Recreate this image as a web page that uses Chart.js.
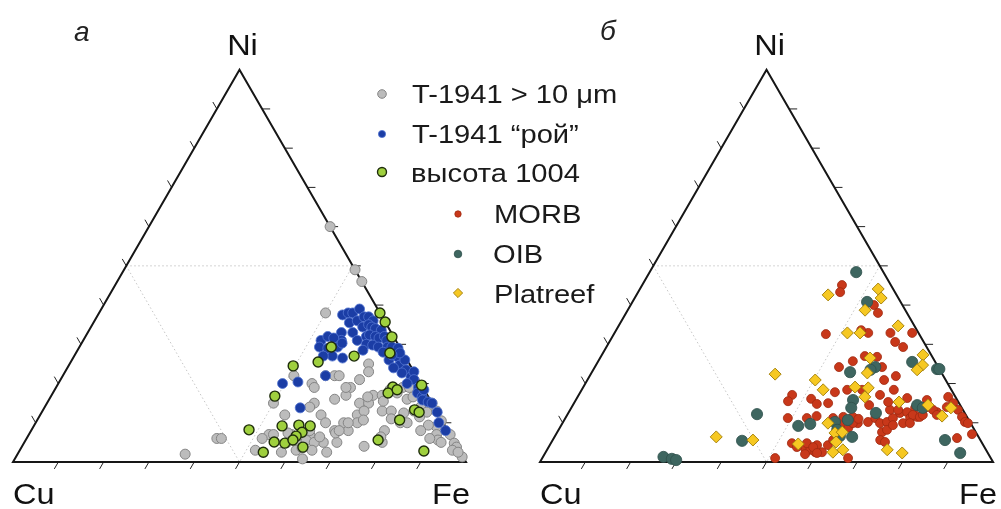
<!DOCTYPE html>
<html>
<head>
<meta charset="utf-8">
<script src="https://cdn.jsdelivr.net/npm/chart.js@4.4.1/dist/chart.umd.min.js"></script>
<style>
  html, body { margin: 0; padding: 0; background: #fff; }
  canvas { display: block; }
</style>
</head>
<body>
<canvas id="ternary" width="1001" height="509"></canvas>
<script>
// each point is [Fe %, Ni %]; Cu = 100 - Fe - Ni
const t1941Big = [
  [40,60],[51,49],[54,46],[50,38],[37,2],[42,6],[43,6],
  [51,22],[50,15],[56,20],[57,19],[58,22],[60,22],[61,22],[65,19],[66,21],[66,25],[67,23],
  [59,15],[54,12],[62,12],[64,10],[63,16],[65,17],[69,15],[70,12],[71,15],[71,13],[71,10],[71,17],
  [73,17],[75,13],[74,15.5],[77,13],[78,11],[68,10],[70,8],[69,5],[67,8],[66,5],[68,2.5],[53,7],
  [52,6],[52,3],[58,2.5],[58,5],[60,5],[61,3],[63.5,0.8],[58,7],[62,7],[62,5.5],[64,5],[64.5,3],
  [75.5,4],[78,8],[79,5],[80.5,10],[80,12.5],[82,13],[79,16],[80,16.6],[83,14],[85,15],[87,13],
  [85,12.7],[89.3,10.5],[89,9],[90,7],[91,5.6],[92,5],[93,7],[95,4.8],[96,3.8],[95.5,3],[87,9.4],
  [86,8],[76.5,19],[76,17.6],[78.5,20.5],[79.5,19],[64,19],[58.5,14],[57,7.4],[54,7],[62,3.6],
  [61.5,8],[64.5,6.4],[67.5,7.4],[68,8],[69,10],[89,6],[98.5,1.3],[97,2.5],[82,10],[84,11.5],
  [78,6.4],[72,10.7],[74,18.4],[70,16.6],[78,19]
];
const t1941Swarm = [
  [54,37.5],[55,38],[56,38],[57,39],[56.5,35.5],[58,36],[59,37],[60,37],[61.5,36],[58.5,33],
  [60,34.4],[61,35],[62,34.4],[63,34],[64.5,33.6],[60.5,31],[62,32],[62.5,32.4],[64,32],[65,31.6],
  [66,32],[67,31],[63,30],[64.5,29.8],[66,29.3],[68,29.3],[69,29.3],[56,33],[57,31],[52.5,31],
  [53.5,32],[55,31.6],[53,29.3],[55,29],[57,29.3],[57.5,30.3],[57,27],[59.5,26.5],[55,27],[63,28.5],
  [58,22],[70,26],[71.5,26.8],[70.5,29],[73,24.7],[73.5,26],[75,23.5],[74.5,22.7],[77,21.7],[77,23],
  [78,21],[77,20],[80,19],[80.5,17.6],[82,16.6],[81.5,18.4],[82.5,15.8],[84,15.3],[49.5,20],
  [52.7,20.4],[56.5,13.8],[89,10],[91.5,8],[87.3,12.7],[85,15],[71.5,27.8],[67.7,28],[70,27.3],[72,24]
];
const height1004 = [
  [62,38],[64.3,35.7],[67.7,31.9],[69.3,27.8],[55.6,29.3],[54.6,25.5],[61.8,27],[49.6,24.5],
  [49.4,16.8],[74.3,19.1],[74,17.6],[75.6,18.4],[80.4,19.6],[82,13.3],[83.3,12.7],[80,10.7],
  [77.8,5.6],[89.3,2.8],[48,8.2],[54,2.5],[54.8,9.2],[58.4,9.4],[61,9.2],[60,7.6],[55.1,5.1],
  [57.6,4.8],[59.2,6.6],[62.1,3.8],[59,5.6]
];
const morb = [
  [44.1,45.1],[44.6,43.3],[53.7,40],[55.6,38],[46.8,32.6],[56,32.9],[54.1,33.6],[60.9,32.9],
  [63.1,30.6],[65.5,29.3],[65.7,32.9],[56.2,25.7],[53.9,24.2],[58.2,27],[61,26.8],[63.4,24.2],
  [67.6,21.9],[65.5,20.9],[68.9,18.4],[47.1,17.1],[47,15.5],[51.8,16.1],[53.7,14.8],[56.1,15],
  [56.2,17.8],[58.6,18.4],[61.9,18.4],[65.4,14.5],[66.5,17.1],[72.9,16.3],[49.1,11.2],[53.3,11.2],
  [55.2,11.7],[59.1,11.2],[61.2,11.5],[63.3,11.5],[65.2,9.9],[67.3,10.2],[68.4,11.2],[70.1,9.9],
  [71.5,10.2],[72.3,11.2],[73.2,12.5],[74.7,12.7],[75.9,13.8],[78.4,14],[81.3,12.7],[82.8,14],
  [81.8,16.6],[83.7,15],[85.6,13.3],[87.4,11.5],[88.7,10.2],[91.8,7.1],[89,6.1],[71.7,7.6],
  [72.5,8.2],[72.3,5.6],[73.2,9.4],[75.2,9.9],[76.1,11.2],[77.5,11.5],[53.2,4.8],[56.9,3.3],
  [58.1,3.1],[59.5,2.5],[61,2.5],[56.5,4.8],[59,4.3],[61.4,4.3],[61.9,5.6],[62.1,7.4],[63.7,8.7],
  [64.1,9.9],[61.5,9.4],[51.4,1],[67.5,1],[54.8,3.8],[70.6,13.3],[72.4,13.3],[76.3,12],[78.1,11.5],
  [77.5,15.8],[80.1,13.3],[76.7,9.9],[78.5,12],[81.6,12],[89.5,9.9],[73.6,5.1],[58.4,3.8],[57.5,2],
  [60,2.3],[64.8,11],[69.2,15.3]
];
const oib = [
  [45.6,48.4],[51.8,40.8],[69.4,25.5],[75.8,23.7],[76.3,23.7],[61.9,24.2],[61.2,23.5],[61.2,15.8],
  [61.8,13.8],[62.6,10.7],[67.9,12.5],[76,14.5],[77.6,13.8],[60,10.2],[61.5,8.2],[41.8,12.2],
  [52.4,9.2],[54.8,9.7],[41.9,5.4],[62.9,6.6],[65.7,6.4],[86.6,5.6],[91.6,2.3],[26.6,1.3],
  [28.7,0.8],[29.8,0.5],[57,22.9]
];
const platreef = [
  [42.3,42.6],[52.6,44.1],[54.4,41.8],[52.4,38.7],[51.4,32.9],[54.2,32.9],[61.7,34.7],[70.9,27.3],
  [72.1,24.7],[71.5,23.5],[59.6,26.5],[60.9,22.7],[40.7,22.4],[50.3,20.9],[53.3,18.4],[60,19.1],
  [63,18.9],[63.4,16.6],[71.6,15.3],[78.4,14.5],[82.9,11.7],[83.8,13.8],[35.7,6.4],[44.2,5.6],
  [58.6,9.9],[61.4,7.4],[62.9,7.6],[62.8,5.1],[54.7,4.6],[63.4,2.5],[65.3,3.1],[75.1,3.1],[78.8,2.3]
];

const legendNames = ['T-1941 > 10 μm', 'T-1941 “рой”', 'высота 1004', 'MORB', 'OIB', 'Platreef'];
const panelLetters = ['а', 'б'];
const tickSteps = [10, 20, 30, 40, 50, 60, 70, 80, 90];

// two triangles side by side, side = 100 units
const H = Math.sqrt(3) / 2;
const panelOffsets = [0, 116.34];

function toXY(list, off) {
  return list.map(p => ({ x: off + p[0] + p[1] / 2, y: p[1] * H }));
}

const styles = [
  { label: legendNames[0], data: toXY(t1941Big, 0), bg: '#bcbcbc', bd: '#858585', r: 5, bw: 1, ps: 'circle', order: 6 },
  { label: legendNames[1], data: toXY(t1941Swarm, 0), bg: '#1b3da5', bd: '#5273d0', r: 5, bw: 0.8, ps: 'circle', order: 5 },
  { label: legendNames[2], data: toXY(height1004, 0), bg: '#9fd03e', bd: '#1f2d0c', r: 5, bw: 1.4, ps: 'circle', order: 4 },
  { label: legendNames[3], data: toXY(morb, panelOffsets[1]), bg: '#c8381a', bd: '#a02a10', r: 4.5, bw: 0.8, ps: 'circle', order: 3 },
  { label: legendNames[4], data: toXY(oib, panelOffsets[1]), bg: '#3e6660', bd: '#2f514b', r: 5.6, bw: 0.8, ps: 'circle', order: 2 },
  { label: legendNames[5], data: toXY(platreef, panelOffsets[1]), bg: '#f6c822', bd: '#a88510', r: 6, bw: 1, ps: 'rectRot', order: 1 }
];

const datasets = styles.map(s => ({
  label: s.label,
  data: s.data,
  backgroundColor: s.bg,
  borderColor: s.bd,
  borderWidth: s.bw,
  pointRadius: s.r,
  pointStyle: s.ps,
  order: s.order
}));

function stretchText(ctx, text, x, y, align) {
  const k = 1.12;
  const w = ctx.measureText(text).width * k;
  let x0 = x;
  if (align === 'center') x0 = x - w / 2;
  if (align === 'right') x0 = x - w;
  ctx.save();
  ctx.translate(x0, y);
  ctx.scale(k, 1);
  ctx.textAlign = 'left';
  ctx.fillText(text, 0, 0);
  ctx.restore();
}

const ternaryFrame = {
  id: 'ternaryFrame',
  beforeDatasetsDraw(chart) {
    const ctx = chart.ctx;
    const sx = chart.scales.x, sy = chart.scales.y;
    const P = (off, fe, ni) => [sx.getPixelForValue(off + fe + ni / 2), sy.getPixelForValue(ni * H)];
    ctx.save();
    panelOffsets.forEach(off => {
      // dotted 50 % lines
      const a = P(off, 0, 50), b = P(off, 50, 50), c = P(off, 50, 0);
      ctx.strokeStyle = '#c6c6c6';
      ctx.lineWidth = 1;
      ctx.setLineDash([1.5, 2.5]);
      ctx.beginPath();
      ctx.moveTo(a[0], a[1]); ctx.lineTo(b[0], b[1]);
      ctx.moveTo(a[0], a[1]); ctx.lineTo(c[0], c[1]); ctx.lineTo(b[0], b[1]);
      ctx.stroke();
      ctx.setLineDash([]);

      // ticks
      const len = 8;
      ctx.strokeStyle = '#222';
      ctx.lineWidth = 1;
      ctx.beginPath();
      tickSteps.forEach(k => {
        let p = P(off, k, 0);
        ctx.moveTo(p[0], p[1]); ctx.lineTo(p[0] - 0.5 * len, p[1] + H * len);
        p = P(off, 100 - k, k);
        ctx.moveTo(p[0], p[1]); ctx.lineTo(p[0] + len, p[1]);
        p = P(off, 0, k);
        ctx.moveTo(p[0], p[1]); ctx.lineTo(p[0] - 0.5 * len, p[1] - H * len);
      });
      ctx.stroke();

      // triangle
      const cu = P(off, 0, 0), fe = P(off, 100, 0), ni = P(off, 0, 100);
      ctx.strokeStyle = '#161616';
      ctx.lineWidth = 2;
      ctx.lineJoin = 'miter';
      ctx.beginPath();
      ctx.moveTo(cu[0], cu[1]); ctx.lineTo(fe[0], fe[1]); ctx.lineTo(ni[0], ni[1]);
      ctx.closePath();
      ctx.stroke();

      // corner labels
      ctx.fillStyle = '#111';
      ctx.font = '29px "Liberation Sans", Arial, sans-serif';
      ctx.textBaseline = 'alphabetic';
      stretchText(ctx, 'Ni', ni[0] + 3, 55, 'center');
      stretchText(ctx, 'Cu', cu[0], 504, 'left');
      stretchText(ctx, 'Fe', fe[0] + 4, 504, 'right');
    });

    // panel letters
    ctx.font = 'italic 28px "Liberation Sans", Arial, sans-serif';
    ctx.fillStyle = '#222';
    ctx.textAlign = 'left';
    ctx.fillText(panelLetters[0], 74, 41);
    ctx.fillText(panelLetters[1], 600, 40);
    ctx.restore();
  },
  afterDatasetsDraw(chart) {
    const ctx = chart.ctx;
    // legend
    const rows = [
      { i: 0, mx: 382, my: 94, tx: 412, ty: 103, r: 4.3 },
      { i: 1, mx: 382, my: 134, tx: 412, ty: 143, r: 3.6 },
      { i: 2, mx: 382, my: 172, tx: 411, ty: 181.5, r: 4.5 },
      { i: 3, mx: 458, my: 214, tx: 494, ty: 223, r: 3.2 },
      { i: 4, mx: 458, my: 254, tx: 493, ty: 263, r: 3.8 },
      { i: 5, mx: 458, my: 293, tx: 494, ty: 303, r: 4.6 }
    ];
    ctx.save();
    rows.forEach(row => {
      const s = styles[row.i];
      ctx.fillStyle = s.bg;
      ctx.strokeStyle = s.bd;
      ctx.lineWidth = s.bw;
      Chart.helpers.drawPoint(ctx, { pointStyle: s.ps, radius: row.r, rotation: 0, borderWidth: s.bw }, row.mx, row.my);
      ctx.fillStyle = '#1a1a1a';
      ctx.font = '26px "Liberation Sans", Arial, sans-serif';
      ctx.textBaseline = 'alphabetic';
      stretchText(ctx, legendNames[row.i], row.tx, row.ty, 'left');
    });
    ctx.restore();
  }
};

new Chart(document.getElementById('ternary'), {
  type: 'scatter',
  data: { datasets: datasets },
  options: {
    responsive: false,
    animation: false,
    events: [],
    layout: { padding: 0, autoPadding: false },
    plugins: { legend: { display: false }, tooltip: { enabled: false } },
    scales: {
      x: { type: 'linear', min: -2.87, max: 218.1, display: false },
      y: { type: 'linear', min: -10.375, max: 101.99, display: false }
    }
  },
  plugins: [ternaryFrame]
});
</script>
</body>
</html>
